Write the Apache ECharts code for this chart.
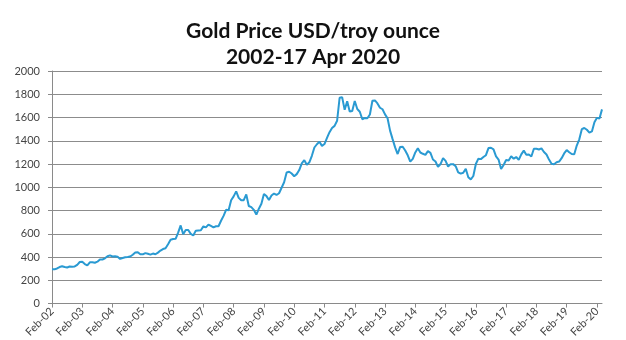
<!DOCTYPE html>
<html><head><meta charset="utf-8">
<script src="https://cdn.jsdelivr.net/npm/echarts@6/dist/echarts.min.js"></script>
<style>html,body{margin:0;padding:0;background:#fff}#c{width:626px;height:340px}</style>
</head><body><div id="c"></div>
<script>
// Monthly gold price (USD/troy oz), starting Feb 2002, ending Apr 2020
const startYear = 2002, startMonth = 1; // Feb (0-based)
const p2002 = [296,294,302,314,321,314,310,319,317,319,333];
const p2003 = [357,359,340,328,355,356,351,360,379,379,389,407];
const p2004 = [414,405,406,403,384,392,398,400,405,420,439,442];
const p2005 = [424,423,434,428,421,430,424,438,456,469,476,510];
const p2006 = [549,555,557,610,672,596,633,632,599,585,627,629];
const p2007 = [631,664,655,679,667,655,665,665,712,754,806,803];
const p2008 = [889,922,965,909,888,889,939,839,829,806,765,816];
const p2009 = [858,943,924,890,929,946,934,949,996,1043,1127,1134];
const p2010 = [1118,1095,1113,1148,1205,1233,1193,1215,1271,1342,1370,1391];
const p2011 = [1356,1372,1424,1474,1510,1528,1572,1770,1775,1666,1739,1652];
const p2012 = [1656,1742,1673,1650,1585,1596,1594,1626,1744,1747,1721,1684];
const p2013 = [1671,1627,1593,1487,1414,1343,1286,1347,1349,1316,1275,1221];
const p2014 = [1244,1300,1336,1299,1288,1279,1311,1296,1239,1222,1176,1200];
const p2015 = [1251,1227,1179,1199,1199,1181,1128,1117,1125,1159,1086,1068];
const p2016 = [1097,1200,1246,1242,1260,1276,1337,1340,1326,1266,1238,1157];
const p2017 = [1192,1234,1231,1266,1246,1260,1236,1283,1315,1280,1282,1265];
const p2018 = [1331,1331,1325,1334,1303,1282,1238,1202,1198,1215,1221,1250];
const p2019 = [1291,1320,1301,1286,1284,1359,1413,1500,1510,1495,1470,1480];
const p2020 = [1560,1597,1591,1670];
const prices = [].concat(p2002,p2003,p2004,p2005,p2006,p2007,p2008,p2009,p2010,p2011,p2012,p2013,p2014,p2015,p2016,p2017,p2018,p2019,p2020);
const monthNames = ['Jan','Feb','Mar','Apr','May','Jun','Jul','Aug','Sep','Oct','Nov','Dec'];
const categories = prices.map((v,i)=>{
  const m = (startMonth + i) % 12, y = startYear + Math.floor((startMonth + i)/12);
  return monthNames[m] + '-' + String(y % 100).padStart(2,'0');
});
const yTicks = [0,200,400,600,800,1000,1200,1400,1600,1800,2000];
const titleText = 'Gold Price USD/troy ounce\n2002-17 Apr 2020';

const chart = echarts.init(document.getElementById('c'), null, {renderer:'canvas'});
chart.setOption({
  animation:false,
  backgroundColor:'#fff',
  title:{
    text:titleText, left:'center', top:13,
    textStyle:{fontFamily:'Lato', fontWeight:'bold', fontSize:21, lineHeight:26, color:'#111'}
  },
  grid:{left:52, right:24, top:71, bottom:36, containLabel:false},
  xAxis:{
    type:'category', data:categories, boundaryGap:false,
    axisLine:{lineStyle:{color:'#8a8a8a', width:1}},
    axisTick:{show:true, length:4, interval:(i)=> i%12===0, lineStyle:{color:'#8a8a8a'}},
    axisLabel:{interval:(i)=> i%12===0, rotate:45, fontFamily:'Lato', fontSize:11, color:'#444', margin:6},
    splitLine:{show:false}
  },
  yAxis:{
    type:'value', min:yTicks[0], max:yTicks[yTicks.length-1], interval:200,
    axisLine:{show:true, lineStyle:{color:'#8a8a8a'}},
    axisTick:{show:true, length:4, lineStyle:{color:'#8a8a8a'}},
    axisLabel:{fontFamily:'Lato', fontSize:11, color:'#444', margin:12, formatter:(v)=>String(v)},
    splitLine:{show:true, lineStyle:{color:'#8c8c8c', width:1}}
  },
  series:[{
    type:'line', data:prices, showSymbol:false, smooth:false,
    lineStyle:{color:'#2a9ad2', width:2}, itemStyle:{color:'#2a9ad2'}
  }]
});
</script></body></html>
